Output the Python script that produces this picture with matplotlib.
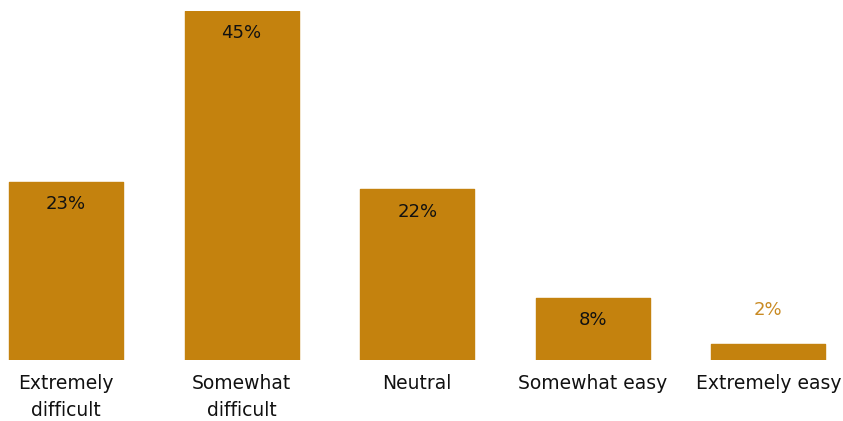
import matplotlib.pyplot as plt

categories = ['Extremely\ndifficult', 'Somewhat\ndifficult', 'Neutral', 'Somewhat easy', 'Extremely easy']
values = [23, 45, 22, 8, 2]

bar_color = '#C4820E'
plt.rcParams['font.family'] = ['DejaVu Sans']

fig = plt.figure(figsize=(8.43, 4.21), dpi=100)
ax = fig.add_axes([0, 61 / 421, 1, 349 / 421])

x = range(len(values))
bars = ax.bar(x, values, width=0.65, color=bar_color, edgecolor=bar_color,
              linewidth=1, joinstyle='round')

# labels sit inside the bar near its top, or above it when the bar is too short
for b, v in zip(bars, values):
    cx = b.get_x() + b.get_width() / 2
    if v >= 5:
        ax.annotate(f'{v}%', (cx, v), xytext=(0, -16), textcoords='offset points',
                    ha='center', va='center', fontsize=13, color='#111111')
    else:
        ax.annotate(f'{v}%', (cx, v), xytext=(0, 25), textcoords='offset points',
                    ha='center', va='center', fontsize=13, color='#C98A22')

ax.set_xlim(-66 / 175.6, (843 - 66) / 175.6)
ax.set_ylim(0, 45)
ax.set_xticks(list(x))
ax.set_xticklabels(categories, fontsize=13.5, color='#111111', linespacing=1.55)
ax.tick_params(axis='x', length=0, pad=10)
ax.set_yticks([])
for s in ax.spines.values():
    s.set_visible(False)

fig.savefig('out.png', dpi=100)
